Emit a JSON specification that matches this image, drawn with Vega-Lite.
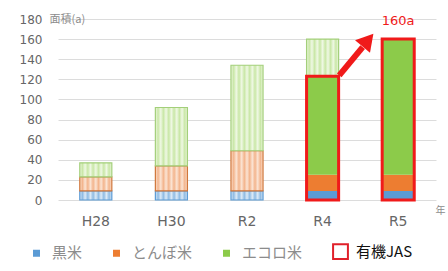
{
  "$schema": "https://vega.github.io/schema/vega-lite/v6.json",
  "width": 378,
  "height": 181,
  "autosize": {"type": "none"},
  "padding": {"left": 58, "top": 19, "right": 12, "bottom": 71},
  "background": "white",
  "config": {"view": {"stroke": null}, "font": "Noto Sans CJK JP"},
  "datasets": {
    "rice": [
      {"year": "H28", "type": "黒米", "value": 9, "organic": false, "ord": 1},
      {"year": "H28", "type": "とんぼ米", "value": 14, "organic": false, "ord": 2},
      {"year": "H28", "type": "エコロ米", "value": 14, "organic": false, "ord": 3},
      {"year": "H30", "type": "黒米", "value": 9, "organic": false, "ord": 1},
      {"year": "H30", "type": "とんぼ米", "value": 25, "organic": false, "ord": 2},
      {"year": "H30", "type": "エコロ米", "value": 58, "organic": false, "ord": 3},
      {"year": "R2", "type": "黒米", "value": 9, "organic": false, "ord": 1},
      {"year": "R2", "type": "とんぼ米", "value": 40, "organic": false, "ord": 2},
      {"year": "R2", "type": "エコロ米", "value": 85, "organic": false, "ord": 3},
      {"year": "R4", "type": "黒米", "value": 9, "organic": true, "ord": 1},
      {"year": "R4", "type": "とんぼ米", "value": 16, "organic": true, "ord": 2},
      {"year": "R4", "type": "エコロ米", "value": 98, "organic": true, "ord": 3},
      {"year": "R4", "type": "エコロ米", "value": 37, "organic": false, "ord": 4},
      {"year": "R5", "type": "黒米", "value": 9, "organic": true, "ord": 1},
      {"year": "R5", "type": "とんぼ米", "value": 16, "organic": true, "ord": 2},
      {"year": "R5", "type": "エコロ米", "value": 135, "organic": true, "ord": 3}
    ],
    "note": [{"year": "R5", "value": 178, "label": "160a"}],
    "arrow": [{"x1": 3.72, "y1": 124, "x2": 4.03, "y2": 152, "hx": 4.1, "hy": 159}]
  },
  "resolve": {"scale": {"x": "independent"}},
  "layer": [
    {
      "layer": [
        {
          "data": {"name": "rice"},
          "mark": {"type": "bar"},
          "encoding": {
            "x": {
              "field": "year", "type": "ordinal", "sort": null,
              "scale": {"paddingInner": 0.576, "paddingOuter": 0.288},
              "axis": {
                "title": "年", "titleAnchor": "end", "titleAlign": "left", "titleBaseline": "middle",
                "titleX": 377, "titleY": 10, "titleFontSize": 10, "titleFontWeight": "normal", "titleColor": "#8c8c8c",
                "labelAngle": 0, "labelFont": "DejaVu Sans", "labelFontSize": 14, "labelColor": "#666666",
                "labelPadding": 14, "ticks": false, "domain": false
              }
            },
            "y": {
              "field": "value", "type": "quantitative", "stack": "zero",
              "scale": {"domain": [0, 180], "nice": false},
              "axis": {
                "values": [0, 20, 40, 60, 80, 100, 120, 140, 160, 180],
                "labelOverlap": false,
                "title": "面積(a)", "titleAngle": 0, "titleAlign": "left", "titleBaseline": "middle",
                "titleX": -9, "titleY": 0, "titleFontSize": 11, "titleFontWeight": "normal", "titleColor": "#8c8c8c",
                "labelFont": "DejaVu Sans", "labelFontSize": 12, "labelColor": "#666666", "labelPadding": 16,
                "ticks": false, "domain": false, "gridColor": "#dcdcdc", "gridWidth": 1
              }
            },
            "order": {"field": "ord", "type": "quantitative"},
            "fill": {
              "field": "type", "type": "nominal",
              "scale": {"domain": ["黒米", "とんぼ米", "エコロ米", "有機JAS"], "range": ["#5B9BD5", "#ED7D31", "#8CCB4A", "#ffffff"]},
              "legend": {
                "orient": "none", "legendX": -29, "legendY": 225, "direction": "horizontal", "title": null,
                "symbolType": "square", "symbolSize": 49, "symbolStrokeWidth": 0,
                "labelFont": "Noto Sans CJK JP", "labelFontSize": 15, "labelColor": "#8c8c8c", "labelOffset": 8,
                "columnPadding": 26,
                "encode": {
                  "symbols": {"update": {
                    "stroke": {"signal": "datum.value == '有機JAS' ? '#e0202a' : 'transparent'"},
                    "strokeWidth": {"signal": "datum.value == '有機JAS' ? 2 : 0"},
                    "size": {"signal": "datum.value == '有機JAS' ? 220 : 49"}
                  }},
                  "labels": {"update": {
                    "fill": {"signal": "datum.value == '有機JAS' ? '#111111' : '#8c8c8c'"},
                    "fontSize": {"signal": "15"}
                  }}
                }
              },
              "condition": [
                {"test": "!datum.organic && datum.type == '黒米'", "value": {"gradient": "linear", "x1": 0, "x2": 1, "y1": 0, "y2": 0, "stops": [
                  {"offset": 0, "color": "#dceaf7"}, {"offset": 0.083, "color": "#8fbbe3"}, {"offset": 0.167, "color": "#dceaf7"}, {"offset": 0.25, "color": "#8fbbe3"}, {"offset": 0.333, "color": "#dceaf7"}, {"offset": 0.417, "color": "#8fbbe3"}, {"offset": 0.5, "color": "#dceaf7"}, {"offset": 0.583, "color": "#8fbbe3"}, {"offset": 0.667, "color": "#dceaf7"}, {"offset": 0.75, "color": "#8fbbe3"}, {"offset": 0.833, "color": "#dceaf7"}, {"offset": 0.917, "color": "#8fbbe3"}, {"offset": 1, "color": "#dceaf7"}]}},
                {"test": "!datum.organic && datum.type == 'とんぼ米'", "value": {"gradient": "linear", "x1": 0, "x2": 1, "y1": 0, "y2": 0, "stops": [
                  {"offset": 0, "color": "#fbe4d4"}, {"offset": 0.083, "color": "#f3b48c"}, {"offset": 0.167, "color": "#fbe4d4"}, {"offset": 0.25, "color": "#f3b48c"}, {"offset": 0.333, "color": "#fbe4d4"}, {"offset": 0.417, "color": "#f3b48c"}, {"offset": 0.5, "color": "#fbe4d4"}, {"offset": 0.583, "color": "#f3b48c"}, {"offset": 0.667, "color": "#fbe4d4"}, {"offset": 0.75, "color": "#f3b48c"}, {"offset": 0.833, "color": "#fbe4d4"}, {"offset": 0.917, "color": "#f3b48c"}, {"offset": 1, "color": "#fbe4d4"}]}},
                {"test": "!datum.organic && datum.type == 'エコロ米'", "value": {"gradient": "linear", "x1": 0, "x2": 1, "y1": 0, "y2": 0, "stops": [
                  {"offset": 0, "color": "#eff8e4"}, {"offset": 0.083, "color": "#c9e7a6"}, {"offset": 0.167, "color": "#eff8e4"}, {"offset": 0.25, "color": "#c9e7a6"}, {"offset": 0.333, "color": "#eff8e4"}, {"offset": 0.417, "color": "#c9e7a6"}, {"offset": 0.5, "color": "#eff8e4"}, {"offset": 0.583, "color": "#c9e7a6"}, {"offset": 0.667, "color": "#eff8e4"}, {"offset": 0.75, "color": "#c9e7a6"}, {"offset": 0.833, "color": "#eff8e4"}, {"offset": 0.917, "color": "#c9e7a6"}, {"offset": 1, "color": "#eff8e4"}]}}
              ]
            },
            "stroke": {
              "field": "type", "type": "nominal",
              "scale": {"domain": ["黒米", "とんぼ米", "エコロ米"], "range": ["#5b9bd5", "#d0763a", "#a3cf7a"]},
              "legend": null
            },
            "strokeWidth": {"condition": {"test": "datum.organic", "value": 0}, "value": 1.2}
          }
        },
        {
          "data": {"name": "rice"},
          "transform": [
            {"filter": "datum.organic"},
            {"aggregate": [{"op": "sum", "field": "value", "as": "total"}], "groupby": ["year"]}
          ],
          "mark": {"type": "bar", "fill": null, "fillOpacity": 0, "stroke": "#f01a1a", "strokeWidth": 3},
          "encoding": {
            "x": {"field": "year", "type": "ordinal", "sort": ["H28", "H30", "R2", "R4", "R5"]},
            "y": {
              "field": "total", "type": "quantitative",
              "axis": {
                "values": [0, 20, 40, 60, 80, 100, 120, 140, 160, 180],
                "labelOverlap": false,
                "title": "面積(a)", "titleAngle": 0, "titleAlign": "left", "titleBaseline": "middle",
                "titleX": -9, "titleY": 0, "titleFontSize": 11, "titleFontWeight": "normal", "titleColor": "#8c8c8c",
                "labelFont": "DejaVu Sans", "labelFontSize": 12, "labelColor": "#666666", "labelPadding": 16,
                "ticks": false, "domain": false, "gridColor": "#dcdcdc", "gridWidth": 1
              }
            }
          }
        },
        {
          "data": {"name": "note"},
          "mark": {"type": "text", "color": "#f01a1a", "fontSize": 13, "font": "DejaVu Sans", "baseline": "middle", "align": "center"},
          "encoding": {
            "x": {"field": "year", "type": "ordinal"},
            "y": {
              "field": "value", "type": "quantitative",
              "axis": {
                "values": [0, 20, 40, 60, 80, 100, 120, 140, 160, 180],
                "labelOverlap": false,
                "title": "面積(a)", "titleAngle": 0, "titleAlign": "left", "titleBaseline": "middle",
                "titleX": -9, "titleY": 0, "titleFontSize": 11, "titleFontWeight": "normal", "titleColor": "#8c8c8c",
                "labelFont": "DejaVu Sans", "labelFontSize": 12, "labelColor": "#666666", "labelPadding": 16,
                "ticks": false, "domain": false, "gridColor": "#dcdcdc", "gridWidth": 1
              }
            },
            "text": {"field": "label"}
          }
        }
      ]
    },
    {
      "data": {"name": "arrow"},
      "layer": [
        {
          "mark": {"type": "rule", "color": "#f01a1a", "strokeWidth": 6},
          "encoding": {
            "x": {"field": "x1", "type": "quantitative", "scale": {"domain": [0, 5]}, "axis": null},
            "y": {
              "field": "y1", "type": "quantitative",
              "axis": {
                "values": [0, 20, 40, 60, 80, 100, 120, 140, 160, 180],
                "labelOverlap": false,
                "title": "面積(a)", "titleAngle": 0, "titleAlign": "left", "titleBaseline": "middle",
                "titleX": -9, "titleY": 0, "titleFontSize": 11, "titleFontWeight": "normal", "titleColor": "#8c8c8c",
                "labelFont": "DejaVu Sans", "labelFontSize": 12, "labelColor": "#666666", "labelPadding": 16,
                "ticks": false, "domain": false, "gridColor": "#dcdcdc", "gridWidth": 1
              }
            },
            "x2": {"field": "x2"},
            "y2": {"field": "y2"}
          }
        },
        {
          "mark": {"type": "point", "shape": "triangle-up", "filled": true, "color": "#f01a1a", "size": 380, "angle": 40, "opacity": 1},
          "encoding": {
            "x": {"field": "hx", "type": "quantitative", "scale": {"domain": [0, 5]}, "axis": null},
            "y": {
              "field": "hy", "type": "quantitative",
              "axis": {
                "values": [0, 20, 40, 60, 80, 100, 120, 140, 160, 180],
                "labelOverlap": false,
                "title": "面積(a)", "titleAngle": 0, "titleAlign": "left", "titleBaseline": "middle",
                "titleX": -9, "titleY": 0, "titleFontSize": 11, "titleFontWeight": "normal", "titleColor": "#8c8c8c",
                "labelFont": "DejaVu Sans", "labelFontSize": 12, "labelColor": "#666666", "labelPadding": 16,
                "ticks": false, "domain": false, "gridColor": "#dcdcdc", "gridWidth": 1
              }
            }
          }
        }
      ]
    }
  ]
}
